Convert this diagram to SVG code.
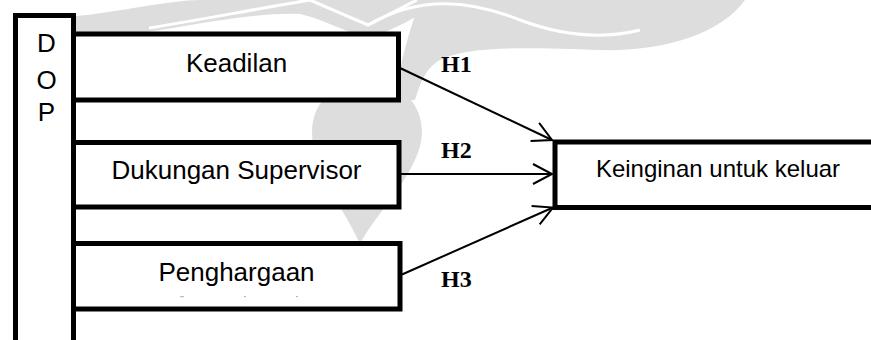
<svg xmlns="http://www.w3.org/2000/svg" width="871" height="340" viewBox="0 0 871 340">
  <style>
    .box { fill: #ffffff; stroke: #000000; stroke-width: 5; }
    .lbl { font-family: "Liberation Sans", Arial, sans-serif; font-size: 26px; fill: #000000; }
    .hyp { font-family: "Liberation Serif", "Times New Roman", serif; font-size: 24px; font-weight: bold; fill: #000000; }
    .conn { fill: none; stroke: #000000; stroke-width: 2; }
    .wm { fill: #dddddd; stroke: none; }
    .wml { fill: none; stroke: #ffffff; stroke-width: 3; }
  </style>
  <defs>
    <marker id="arr" markerUnits="userSpaceOnUse" markerWidth="30" markerHeight="30" viewBox="-25 -15 30 30" refX="0" refY="0" orient="auto" overflow="visible">
      <path d="M-19,-10 L0,0 L-19,10" fill="none" stroke="#000000" stroke-width="2"/>
    </marker>
  </defs>
  <rect x="0" y="0" width="871" height="340" fill="#ffffff"/>
  <g id="watermark">
    <path class="wm" d="M76,33 L76,16 C120,12 170,0 200,0 L445,0 C420,15 390,32 368,38 C345,32 320,18 300,14 C250,12 180,28 140,33 Z"/>
    <path class="wm" d="M420,0 L745,0 C720,35 660,52 600,50 C530,48 470,45 440,60 C425,68 420,85 415,100 L395,100 C400,60 410,30 420,0 Z"/>
    <path class="wm" d="M360,244 C348,215 312,170 312,132 C312,100 338,80 367,80 C396,80 422,100 422,132 C422,170 374,215 360,244 Z"/>
    <path class="wml" d="M149,28 C200,20 250,10 310,0"/>
    <path class="wml" d="M310,0 L368,25 L417,0"/>
    <path class="wml" d="M368,25 C420,-5 470,0 520,20 C560,35 600,40 640,30"/>
  </g>
  <g id="connectors">
    <path class="conn" d="M400,68 L552,140" marker-end="url(#arr)"/>
    <path class="conn" d="M401,174 L552,174" marker-end="url(#arr)"/>
    <path class="conn" d="M402,274.5 L553,207.5" marker-end="url(#arr)"/>
    <text class="hyp" x="441" y="71.5">H1</text>
    <text class="hyp" x="441" y="158">H2</text>
    <text class="hyp" x="441" y="286.5">H3</text>
  </g>
  <g id="node-keadilan">
    <rect class="box" x="73.5" y="34" width="325" height="66"/>
    <text class="lbl" x="236.5" y="72" text-anchor="middle">Keadilan</text>
  </g>
  <g id="node-dukungan">
    <rect class="box" x="73.5" y="142.5" width="325.5" height="64.5"/>
    <text class="lbl" x="236.5" y="178.5" text-anchor="middle">Dukungan Supervisor</text>
  </g>
  <g id="node-penghargaan">
    <rect class="box" x="73.5" y="243.5" width="326.5" height="65.5"/>
    <text class="lbl" x="236.5" y="281" text-anchor="middle">Penghargaan</text>
    <g fill="#bbbbbb">
      <rect x="180" y="296" width="4" height="1.2"/>
      <rect x="244" y="296" width="2" height="1.2"/>
      <rect x="296" y="296" width="2" height="1.2"/>
    </g>
  </g>
  <g id="node-dop">
    <rect class="box" x="15.5" y="15.5" width="58" height="340" style="fill:none"/>
    <text class="lbl" x="46.5" y="51.7" text-anchor="middle">D</text>
    <text class="lbl" x="46.5" y="88.5" text-anchor="middle">O</text>
    <text class="lbl" x="46.5" y="121" text-anchor="middle">P</text>
  </g>
  <g id="node-keinginan">
    <rect class="box" x="555" y="142" width="330" height="65.5"/>
    <text class="lbl" x="718" y="177" text-anchor="middle" style="font-size:24px">Keinginan untuk keluar</text>
  </g>
</svg>
